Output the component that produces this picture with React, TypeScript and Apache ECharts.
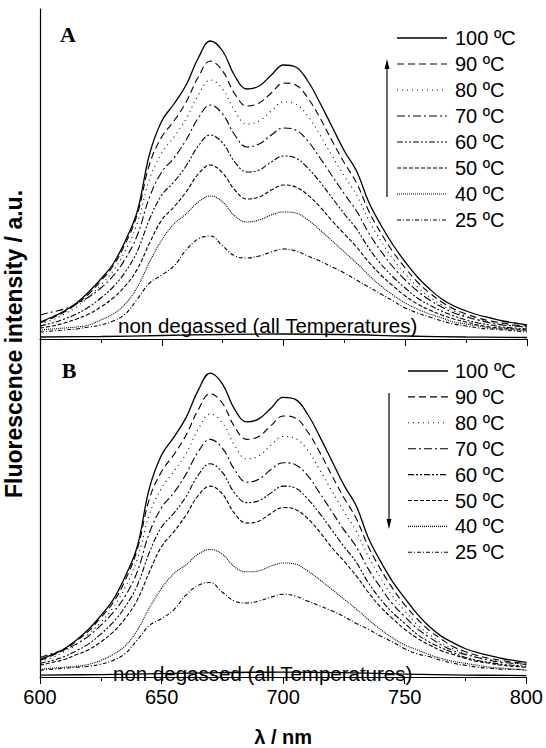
import React, { useEffect, useRef } from "react";
import * as echarts from "echarts";

const LAMBDA = [600, 605, 610, 615, 620, 625, 630, 635, 640, 645, 650, 655, 660, 665, 670, 675, 680, 685, 690, 695, 700, 705, 710, 715, 720, 725, 730, 735, 740, 745, 750, 755, 760, 765, 770, 775, 780, 785, 790, 795, 800];

const TEMPS = ["100 ºC", "90 ºC", "80 ºC", "70 ºC", "60 ºC", "50 ºC", "40 ºC", "25 ºC"];

// Panel A (heating)
const A100 = [17, 22, 28, 36, 47, 60, 75, 98, 128, 185, 218, 235, 254, 281, 298, 288, 263, 250, 253, 264, 274, 272, 258, 236, 212, 188, 168, 137, 114, 94, 77, 62, 50, 40, 33, 28, 24, 21, 18, 16, 14];
const A90 = [16, 21, 27, 35, 45, 58, 73, 95, 125, 175, 202, 218, 237, 262, 278, 268, 245, 233, 236, 246, 256, 254, 241, 221, 198, 176, 156, 128, 106, 87, 71, 57, 46, 37, 30, 25, 21, 18, 16, 14, 13];
const A80 = [15, 19, 25, 32, 42, 54, 68, 88, 116, 160, 186, 202, 220, 244, 259, 250, 228, 215, 218, 228, 237, 235, 223, 204, 183, 163, 144, 119, 98, 80, 65, 52, 42, 34, 28, 23, 19, 17, 15, 13, 12];
const A70 = [24, 27, 30, 35, 42, 51, 63, 80, 104, 142, 167, 181, 199, 221, 234, 225, 204, 192, 195, 204, 211, 209, 198, 181, 163, 145, 128, 106, 88, 72, 59, 48, 39, 32, 26, 22, 19, 16, 14, 13, 12];
const A60 = [13, 16, 20, 25, 32, 41, 52, 67, 88, 120, 144, 157, 173, 193, 204, 196, 177, 167, 169, 177, 183, 181, 171, 157, 141, 125, 110, 91, 75, 62, 51, 41, 34, 28, 23, 19, 16, 14, 12, 11, 10];
const A50 = [11, 13, 16, 20, 25, 32, 41, 53, 70, 96, 119, 132, 147, 165, 174, 166, 149, 140, 142, 149, 154, 152, 144, 132, 118, 105, 92, 77, 64, 53, 43, 35, 29, 24, 20, 17, 14, 12, 11, 10, 9];
const A40 = [9, 10, 11, 12, 14, 19, 25, 35, 52, 77, 99, 115, 125, 137, 143, 137, 123, 117, 119, 124, 127, 126, 119, 109, 98, 87, 76, 64, 53, 44, 36, 30, 25, 21, 17, 15, 13, 11, 10, 9, 8];
const A25 = [7, 8, 9, 10, 12, 14, 18, 25, 40, 56, 64, 73, 89, 100, 103, 93, 83, 81, 83, 87, 90, 88, 83, 78, 72, 66, 59, 52, 45, 38, 31, 26, 22, 18, 15, 13, 11, 10, 9, 8, 7];

// Panel B (cooling)
const B100 = [18, 23, 29, 38, 49, 63, 79, 103, 134, 194, 228, 246, 266, 294, 312, 301, 275, 262, 265, 276, 287, 285, 270, 247, 222, 197, 176, 143, 119, 98, 81, 65, 52, 42, 35, 29, 25, 22, 19, 17, 15];
const B90 = [17, 22, 28, 37, 47, 61, 76, 99, 131, 183, 211, 228, 248, 274, 291, 281, 257, 244, 247, 258, 268, 266, 252, 231, 207, 184, 163, 134, 111, 91, 74, 60, 48, 39, 31, 26, 22, 19, 17, 15, 14];
const B80 = [16, 20, 26, 33, 44, 56, 71, 92, 121, 167, 194, 211, 229, 254, 270, 261, 238, 224, 227, 238, 247, 245, 233, 213, 191, 170, 150, 124, 102, 83, 68, 54, 44, 35, 29, 24, 20, 18, 16, 14, 13];
const B70 = [20, 24, 28, 34, 42, 53, 66, 83, 108, 148, 174, 189, 208, 231, 244, 235, 213, 200, 203, 213, 220, 218, 207, 189, 170, 151, 134, 111, 92, 75, 62, 50, 41, 33, 27, 23, 20, 17, 15, 14, 13];
const B60 = [14, 17, 21, 27, 34, 44, 56, 72, 94, 128, 154, 168, 185, 207, 219, 210, 189, 179, 181, 189, 196, 194, 183, 168, 151, 134, 118, 97, 80, 66, 55, 44, 36, 30, 25, 20, 17, 15, 13, 12, 11];
const B50 = [12, 15, 18, 23, 28, 36, 46, 60, 79, 108, 134, 149, 166, 186, 196, 188, 168, 158, 160, 168, 174, 172, 163, 149, 133, 119, 104, 87, 72, 60, 49, 40, 33, 27, 23, 19, 16, 14, 12, 11, 10];
const B40 = [8, 9, 10, 11, 13, 17, 23, 32, 48, 71, 91, 106, 115, 126, 131, 126, 113, 108, 109, 114, 117, 116, 109, 100, 90, 80, 70, 59, 49, 40, 33, 28, 23, 19, 16, 14, 12, 10, 9, 8, 7];
const B25 = [7, 8, 9, 10, 11, 13, 17, 24, 38, 53, 60, 69, 84, 94, 97, 87, 78, 76, 78, 82, 85, 83, 78, 73, 68, 62, 55, 49, 42, 36, 29, 24, 21, 17, 14, 12, 10, 9, 8, 8, 7];

// Non degassed (all temperatures)
const ND_LAMBDA = [600, 625, 650, 675, 700, 725, 750, 775, 800];
const ND_A = [2, 2.5, 3.5, 4.5, 5, 4.5, 3, 2, 1.5];
const ND_B = [2, 2.5, 3.5, 4.5, 5, 4.5, 3, 2, 1.5];

const SERIES_A = [A100, A90, A80, A70, A60, A50, A40, A25];
const SERIES_B = [B100, B90, B80, B70, B60, B50, B40, B25];

const DASHES: any[] = ["solid", [7, 4], [1, 4], [8, 3, 2, 3], [6, 2, 2, 2, 2, 2], [4, 2], [1, 1], [4, 2, 1, 2]];
const LEGEND_DASHES: any[] = [null, [7, 4], [1, 4], [8, 3, 2, 3], [6, 2, 2, 2, 2, 2], [4, 2], [1, 1], [4, 2, 1, 2]];

const SANS = "'Liberation Sans', Arial, sans-serif";
const SERIF = "'Liberation Serif', 'Times New Roman', serif";

export default function App() {
  const ref = useRef<HTMLDivElement>(null);
  useEffect(() => {
    const chart = echarts.init(ref.current!, null, { renderer: "svg" });

    const GA = { left: 40, top: 9, width: 487, height: 330 };
    const GB = { left: 40, top: 339, width: 487, height: 347 };

    const mkX = (gridIndex: number, showLabels: boolean) => ({
      type: "value",
      gridIndex,
      min: 600,
      max: 800,
      interval: 50,
      axisLine: { show: true, onZero: false, lineStyle: { color: "#000", width: 1.2 } },
      axisTick: { show: true, inside: false, length: 7, lineStyle: { color: "#000", width: 1 } },
      minorTick: { show: true, splitNumber: 2, length: 4, lineStyle: { color: "#000", width: 1 } },
      splitLine: { show: false },
      axisLabel: { show: showLabels, color: "#000", fontSize: 20, fontFamily: SANS, margin: 10 },
      name: showLabels ? "λ / nm" : "",
      nameLocation: "middle",
      nameGap: 50,
      nameTextStyle: { color: "#000", fontSize: 20, fontWeight: "bold", fontFamily: SANS },
    });
    const mkY = (gridIndex: number, max: number) => ({
      type: "value",
      gridIndex,
      min: 0,
      max,
      axisLine: { show: true, onZero: false, lineStyle: { color: "#000", width: 1.2 } },
      axisTick: { show: false },
      axisLabel: { show: false },
      splitLine: { show: false },
    });

    const series: any[] = [];
    const addPanel = (arrs: number[][], nd: number[], idx: number) => {
      arrs.forEach((arr, i) => {
        series.push({
          type: "line",
          xAxisIndex: idx,
          yAxisIndex: idx,
          data: LAMBDA.map((l, j) => [l, arr[j]]),
          smooth: 0.4,
          showSymbol: false,
          symbol: "none",
          silent: true,
          lineStyle: { color: "#000", width: i === 0 ? 1.3 : 1.1, type: DASHES[i] },
        });
      });
      series.push({
        type: "line",
        xAxisIndex: idx,
        yAxisIndex: idx,
        data: ND_LAMBDA.map((l, j) => [l, nd[j]]),
        smooth: 0.4,
        symbol: "none",
        silent: true,
        lineStyle: { color: "#000", width: 1.3 },
      });
    };
    addPanel(SERIES_A, ND_A, 0);
    addPanel(SERIES_B, ND_B, 1);

    const graphic: any[] = [];
    const addLegend = (x1: number, x2: number, y0: number, step: number) => {
      TEMPS.forEach((t, i) => {
        const y = y0 + step * i;
        graphic.push({
          type: "line",
          shape: { x1, y1: y, x2, y2: y },
          style: { stroke: "#000", lineWidth: i === 0 ? 1.3 : 1.1, lineDash: LEGEND_DASHES[i] || undefined },
          silent: true,
        });
        graphic.push({
          type: "text",
          x: 455,
          y,
          style: { text: t, fill: "#000", font: `20px ${SANS}`, textAlign: "left", textVerticalAlign: "middle" },
          silent: true,
        });
      });
    };
    addLegend(397, 447, 38, 26);
    addLegend(408, 448, 371, 25.9);

    // arrows
    graphic.push({ type: "line", shape: { x1: 387, y1: 197, x2: 387, y2: 66 }, style: { stroke: "#000", lineWidth: 1.2 } });
    graphic.push({ type: "polygon", shape: { points: [[387, 59], [384.5, 69], [389.5, 69]] }, style: { fill: "#000" } });
    graphic.push({ type: "line", shape: { x1: 389, y1: 393, x2: 389, y2: 522 }, style: { stroke: "#000", lineWidth: 1.2 } });
    graphic.push({ type: "polygon", shape: { points: [[389, 529], [386.5, 519], [391.5, 519]] }, style: { fill: "#000" } });

    // panel letters
    graphic.push({ type: "text", x: 68, y: 34, style: { text: "A", fill: "#000", font: `bold 22px ${SERIF}`, textAlign: "center", textVerticalAlign: "middle" } });
    graphic.push({ type: "text", x: 69, y: 370, style: { text: "B", fill: "#000", font: `bold 22px ${SERIF}`, textAlign: "center", textVerticalAlign: "middle" } });

    // non degassed labels
    graphic.push({ type: "text", x: 118, y: 325, style: { text: "non degassed (all Temperatures)", fill: "#000", font: `20.5px ${SANS}`, textAlign: "left", textVerticalAlign: "middle" } });
    graphic.push({ type: "text", x: 113, y: 673, style: { text: "non degassed (all Temperatures)", fill: "#000", font: `20.5px ${SANS}`, textAlign: "left", textVerticalAlign: "middle" } });

    // y title
    graphic.push({
      type: "text",
      x: 14,
      y: 344,
      rotation: Math.PI / 2,
      style: { text: "Fluorescence intensity / a.u.", fill: "#000", font: `bold 23px ${SANS}`, textAlign: "center", textVerticalAlign: "middle" },
    });

    chart.setOption({
      animation: false,
      backgroundColor: "#fff",
      grid: [GA, GB],
      xAxis: [mkX(0, false), mkX(1, true)],
      yAxis: [mkY(0, 330), mkY(1, 347)],
      series,
      graphic,
    });
    return () => chart.dispose();
  }, []);
  return <div ref={ref} style={{ position: "fixed", left: 0, top: 0, width: 546, height: 748, background: "#fff" }} />;
}
